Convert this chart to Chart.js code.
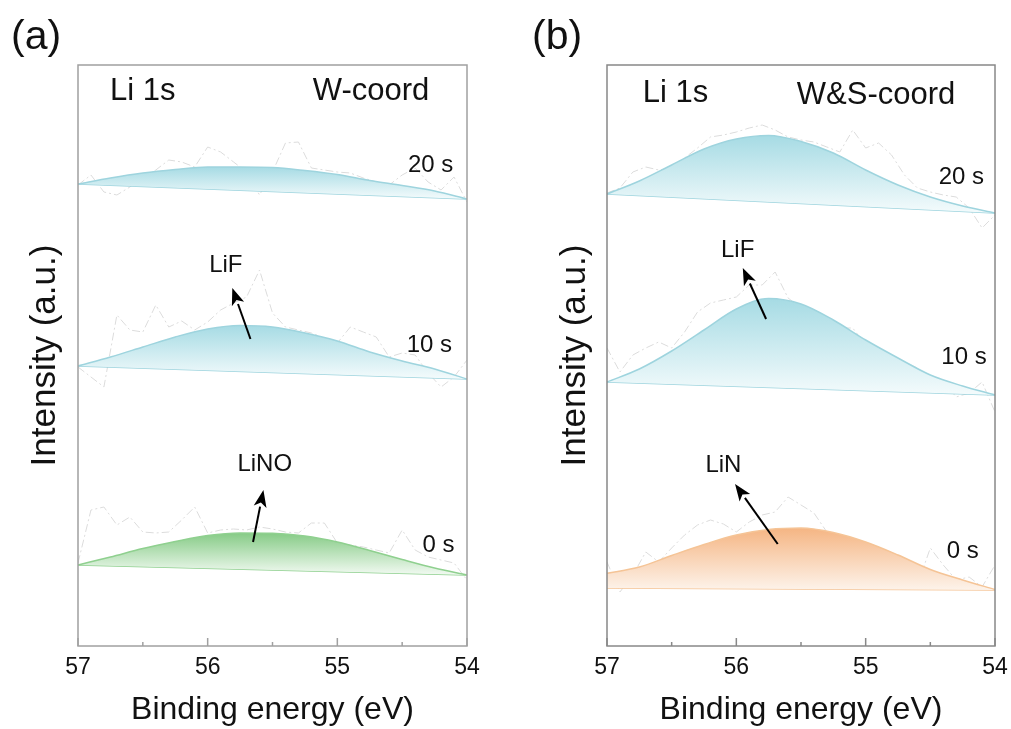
<!DOCTYPE html>
<html>
<head>
<meta charset="utf-8">
<script src="https://cdn.jsdelivr.net/npm/chart.js@4.4.1/dist/chart.umd.min.js"></script>
<style>
  html, body { margin: 0; padding: 0; background: #fff; }
  #wrap { position: relative; width: 1011px; height: 729px; }
  .panel { position: absolute; top: 0; height: 729px; }
  #panelA { left: 0; width: 505px; }
  #panelB { left: 505px; width: 506px; }
</style>
</head>
<body>
<div id="wrap">
  <div class="panel" id="panelA"><canvas id="chartA"></canvas></div>
  <div class="panel" id="panelB"><canvas id="chartB"></canvas></div>
</div>
<script>
const FONT = "'Liberation Sans', Arial, sans-serif";

// binding energy grids (eV)
const fitEnergy = [57, 56.75, 56.5, 56.25, 56, 55.75, 55.5, 55.25, 55, 54.75, 54.5, 54.25, 54];
const rawEnergy = [57, 56.9, 56.8, 56.7, 56.6, 56.5, 56.4, 56.3, 56.2, 56.1, 56, 55.9, 55.8, 55.7, 55.6, 55.5,
                   55.4, 55.3, 55.2, 55.1, 55, 54.9, 54.8, 54.7, 54.6, 54.5, 54.4, 54.3, 54.2, 54.1, 54];
const baseEnergy = [57, 54];

// (a) W-coord, offset intensities
const baseA0 = [81, 71];
const baseA10 = [280, 267];
const baseA20 = [462, 447];
const fitA0 = [81, 89, 97.5, 104.5, 110.5, 113, 112.7, 110, 104, 95.5, 86.5, 78, 71];
const fitA10 = [280, 289, 299, 309, 317, 320.5, 319, 313, 305, 294, 285, 277, 267];
const fitA20 = [462, 468, 473, 476.5, 479, 479, 478.5, 475.5, 471.5, 465.5, 460.5, 455, 447];
const rawA0 = [83, 136, 139, 121, 129, 114, 113, 114, 126, 139, 113, 116, 117, 116, 119, 117,
               114, 113, 123, 123, 103, 101, 99, 96, 93, 116, 96, 89, 86, 83, 66];
const rawA10 = [279, 269, 259, 331, 316, 314, 341, 319, 325, 316, 324, 336, 343, 349, 376, 333,
                319, 316, 313, 308, 303, 319, 314, 309, 289, 293, 291, 273, 259, 269, 286];
const rawA20 = [461, 471, 454, 451, 459, 468, 476, 486, 484, 479, 499, 494, 484, 474, 451, 474,
                503, 504, 478, 476, 474, 473, 468, 464, 461, 471, 478, 464, 456, 469, 444];

// (b) W&S-coord
const baseB0 = [58, 56];
const baseB10 = [264, 251];
const baseB20 = [452, 433];
const fitB0 = [72.7, 79, 90.5, 101.5, 111, 116.5, 118, 113.5, 104, 91, 76.5, 66, 56.5];
const fitB10 = [264, 277, 295, 316, 337, 347.5, 342, 326, 306, 288, 271, 260, 251];
const fitB20 = [452, 465, 481, 497, 507, 510.5, 504.5, 493, 476, 461, 449, 440, 433];
const rawB0 = [84, 54, 71, 94, 84, 98, 111, 121, 126, 122, 114, 124, 131, 134, 149, 141,
               133, 114, 101, 96, 93, 88, 81, 64, 61, 98, 81, 66, 69, 59, 81];
const rawB10 = [298, 274, 291, 298, 304, 298, 314, 334, 343, 346, 349, 361, 361, 374, 348, 338,
                328, 324, 318, 318, 301, 291, 288, 284, 278, 268, 264, 249, 253, 264, 234];
const rawB20 = [453, 458, 474, 479, 476, 478, 488, 498, 509, 511, 514, 518, 521, 516, 509, 506,
                504, 499, 494, 516, 498, 503, 491, 471, 458, 454, 451, 449, 438, 418, 431];

const toPoints = (xs, ys) => xs.map((x, i) => ({x: x, y: ys[i]}));

// vertical gradient from the peak top down to the baseline
function peakGradient(top, bottom) {
    return function (ctx) {
        const chart = ctx.chart;
        if (!chart.chartArea) return top;
        const yScale = chart.scales.y;
        const fit = chart.data.datasets[ctx.datasetIndex].data.map(p => p.y);
        const base = chart.data.datasets[ctx.datasetIndex - 1].data.map(p => p.y);
        const y0 = yScale.getPixelForValue(Math.max(...fit));
        const y1 = yScale.getPixelForValue(Math.min(...base));
        const g = chart.ctx.createLinearGradient(0, y0, 0, y1);
        g.addColorStop(0, top);
        g.addColorStop(1, bottom);
        return g;
    };
}

function spectrum(base, fit, line, top, bottom) {
    return [
        {data: toPoints(baseEnergy, base), borderColor: line, borderWidth: 1.5, pointRadius: 0, fill: false, order: 1},
        {data: toPoints(fitEnergy, fit), borderColor: line, borderWidth: 1.5, pointRadius: 0,
         cubicInterpolationMode: 'monotone', fill: '-1', backgroundColor: peakGradient(top, bottom), order: 0}
    ];
}

function raw(values) {
    return {data: toPoints(rawEnergy, values), borderColor: '#dcdcdc', borderWidth: 1,
            borderDash: [8, 3, 2, 3], pointRadius: 0, fill: false, order: 2};
}

const BLUE = ['#9ed4de', '#a6dbe4', '#f4fbfc'];
const GREEN = ['#8fd08f', '#86cb86', '#f2faf2'];
const ORANGE = ['#f5c496', '#f5b583', '#fdf3ea'];

const decor = {
    id: 'decor',
    afterDatasetsDraw(chart, args, opts) {
        const {ctx, chartArea: a, scales: {x, y}} = chart;
        ctx.save();
        ctx.strokeStyle = opts.frameColor;
        ctx.lineWidth = 1.5;
        ctx.strokeRect(a.left, a.top, a.right - a.left, a.bottom - a.top);
        // inward ticks on the energy axis
        x.ticks.forEach(t => {
            const px = x.getPixelForValue(t.value);
            const len = Number.isInteger(t.value) ? 8 : 4;
            ctx.beginPath();
            ctx.moveTo(px, a.bottom);
            ctx.lineTo(px, a.bottom - len);
            ctx.stroke();
        });
        // arrows
        ctx.fillStyle = '#000';
        ctx.strokeStyle = '#000';
        ctx.lineWidth = 2;
        opts.arrows.forEach(ar => {
            const x0 = x.getPixelForValue(ar.from[0]), y0 = y.getPixelForValue(ar.from[1]);
            const x1 = x.getPixelForValue(ar.to[0]), y1 = y.getPixelForValue(ar.to[1]);
            const ang = Math.atan2(y1 - y0, x1 - x0);
            const hl = 17, hw = 6.5;
            const bx = x1 - hl * Math.cos(ang), by = y1 - hl * Math.sin(ang);
            ctx.beginPath();
            ctx.moveTo(x0, y0);
            ctx.lineTo(bx, by);
            ctx.stroke();
            ctx.beginPath();
            ctx.moveTo(x1, y1);
            ctx.lineTo(bx + hw * Math.sin(ang), by - hw * Math.cos(ang));
            ctx.lineTo(x1 - 0.75 * hl * Math.cos(ang), y1 - 0.75 * hl * Math.sin(ang));
            ctx.lineTo(bx - hw * Math.sin(ang), by + hw * Math.cos(ang));
            ctx.closePath();
            ctx.fill();
        });
        // text labels
        ctx.fillStyle = '#111';
        ctx.textAlign = 'center';
        ctx.textBaseline = 'middle';
        opts.labels.forEach(l => {
            ctx.font = l.size + 'px ' + FONT;
            ctx.fillText(l.text, x.getPixelForValue(l.at[0]), y.getPixelForValue(l.at[1]));
        });
        ctx.font = '41px ' + FONT;
        ctx.textAlign = 'left';
        ctx.fillText(opts.letter, opts.letterX, 38);
        ctx.restore();
    }
};

function makeChart(id, datasets, o) {
    return new Chart(document.getElementById(id), {
        type: 'line',
        data: {datasets: datasets},
        options: {
            responsive: true,
            maintainAspectRatio: false,
            animation: false,
            layout: {padding: {top: 65, right: o.padRight, left: 0, bottom: 0}},
            plugins: {
                legend: {display: false},
                tooltip: {enabled: false},
                decor: {frameColor: o.frameColor, arrows: o.arrows, labels: o.labels, letter: o.letter, letterX: o.letterX}
            },
            scales: {
                x: {
                    type: 'linear', min: 54, max: 57, reverse: true,
                    afterFit: s => { s.height = 83; s.paddingLeft = 0; s.paddingRight = 0; },
                    ticks: {stepSize: 0.5, autoSkip: false, padding: 8, color: '#111', maxRotation: 0,
                            font: {family: FONT, size: 23},
                            callback: v => Number.isInteger(v) ? v : ''},
                    grid: {display: false, drawTicks: false},
                    border: {display: false},
                    title: {display: true, text: 'Binding energy (eV)', color: '#111',
                            font: {family: FONT, size: 32}, padding: {top: 0, bottom: 0}}
                },
                y: {
                    type: 'linear', min: 0, max: 581,
                    afterFit: s => { s.width = o.yWidth; },
                    ticks: {display: false},
                    grid: {display: false, drawTicks: false},
                    border: {display: false},
                    title: {display: true, text: 'Intensity (a.u.)', color: '#111',
                            font: {family: FONT, size: 35}, padding: {top: o.yTitlePad, bottom: 0}}
                }
            }
        },
        plugins: [decor]
    });
}

makeChart('chartA', [
    ...spectrum(baseA0, fitA0, ...GREEN),
    ...spectrum(baseA10, fitA10, ...BLUE),
    ...spectrum(baseA20, fitA20, ...BLUE),
    raw(rawA0), raw(rawA10), raw(rawA20)
], {
    padRight: 38, yWidth: 78, yTitlePad: 24, frameColor: '#a0a0a0', letter: '(a)', letterX: 11,
    labels: [
        {text: 'Li 1s', at: [56.5, 555], size: 31},
        {text: 'W-coord', at: [54.74, 554.5], size: 31},
        {text: '20 s', at: [54.28, 481], size: 24},
        {text: '10 s', at: [54.29, 301], size: 24},
        {text: '0 s', at: [54.22, 101], size: 24},
        {text: 'LiF', at: [55.86, 381], size: 24},
        {text: 'LiNO', at: [55.56, 182], size: 24}
    ],
    arrows: [
        {from: [55.67, 307], to: [55.81, 358]},
        {from: [55.65, 104], to: [55.57, 156]}
    ]
});

makeChart('chartB', [
    ...spectrum(baseB0, fitB0, ...ORANGE),
    ...spectrum(baseB10, fitB10, ...BLUE),
    ...spectrum(baseB20, fitB20, ...BLUE),
    raw(rawB0), raw(rawB10), raw(rawB20)
], {
    padRight: 16, yWidth: 102, yTitlePad: 49, frameColor: '#888888', letter: '(b)', letterX: 27,
    labels: [
        {text: 'Li 1s', at: [56.47, 552.5], size: 31},
        {text: 'W&S-coord', at: [54.92, 551], size: 31},
        {text: '20 s', at: [54.26, 468.5], size: 24},
        {text: '10 s', at: [54.24, 289], size: 24},
        {text: '0 s', at: [54.25, 94.5], size: 24},
        {text: 'LiF', at: [55.99, 396], size: 24},
        {text: 'LiN', at: [56.10, 181], size: 24}
    ],
    arrows: [
        {from: [55.77, 327], to: [55.95, 378]},
        {from: [55.68, 102], to: [56.01, 162]}
    ]
});
</script>
</body>
</html>
